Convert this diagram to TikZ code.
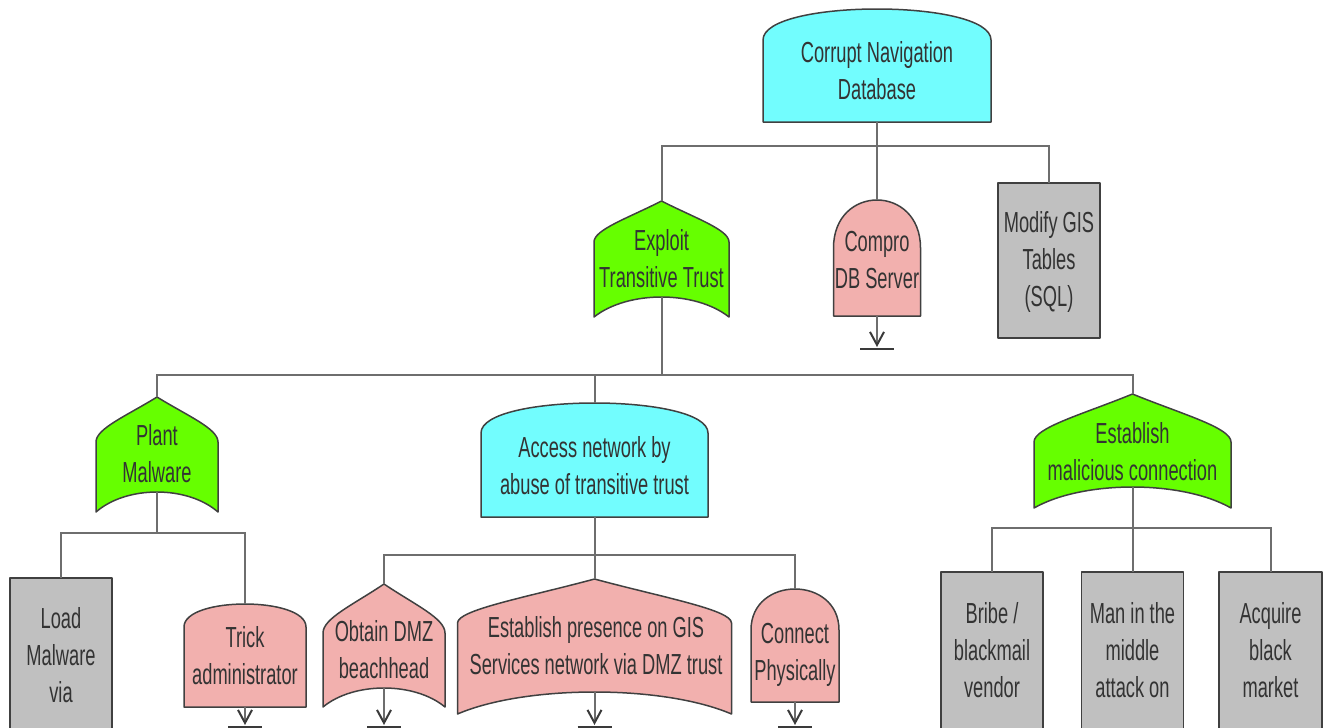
\documentclass[tikz,border=0pt]{standalone}
\usepackage{fontspec}
\setmainfont{Liberation Sans}[FakeStretch=0.63]
\usetikzlibrary{arrows.meta,calc}

\definecolor{andcyan}{HTML}{72FDFE}
\definecolor{orgreen}{HTML}{66FF00}
\definecolor{leafpink}{HTML}{F2B0AE}
\definecolor{leafgrey}{HTML}{C0C0C0}
\definecolor{edgec}{HTML}{404040}
\definecolor{linkc}{HTML}{6E6E6E}
\definecolor{barc}{HTML}{3A3A3A}
\definecolor{txtc}{HTML}{333333}

% AND gate: flat bottom, vertical sides, domed top (#3 = dome height)
\newcommand\andshape[3]{%
  \path[shp,#2] let \p1=(#1.south west), \p2=(#1.north east) in
    (\x1,\y1) -- (\x1,\y2-#3pt)
    .. controls (\x1,\y2+#3pt/3) and (\x2,\y2+#3pt/3) .. (\x2,\y2-#3pt)
    -- (\x2,\y1) -- cycle;}

% OR gate: pointed top (#3 = tip to shoulder), concave bottom (#4 = rise)
\newcommand\orshape[4]{%
  \path[shp,#2] let \p1=(#1.south west), \p2=(#1.north east) in
    (\x1,\y1) -- (\x1,\y2-#3pt)
    .. controls (\x1,\y2-0.7*#3pt) and (0.75*\x1+0.25*\x2,\y2-0.42*#3pt)
    .. (0.5*\x1+0.5*\x2,\y2)
    .. controls (0.25*\x1+0.75*\x2,\y2-0.42*#3pt) and (\x2,\y2-0.7*#3pt)
    .. (\x2,\y2-#3pt)
    -- (\x2,\y1)
    .. controls (0.25*\x1+0.75*\x2,\y1+1.333*#4pt) and (0.75*\x1+0.25*\x2,\y1+1.333*#4pt)
    .. (\x1,\y1) -- cycle;}

% plain leaf box
\newcommand\boxshape[2]{%
  \path[shp,#2] (#1.south west) rectangle (#1.north east);}

\begin{document}
\begin{tikzpicture}[x=1pt,y=-1pt,
  fr/.style 2 args={minimum width=#1pt, minimum height=#2pt,
    inner sep=0pt, outer sep=0pt},
  shp/.style={draw=edgec, line width=1.5pt, line join=round},
  txt/.style={align=center, inner sep=0pt, text=txtc,
    font=\fontsize{29}{37}\selectfont,
    execute at begin node=\strut, execute at end node=\strut},
  link/.style={draw=linkc, line width=2pt},
  xfer/.style={-{Straight Barb[length=13pt,width=14pt,color=barc]}},
  tbar/.style={draw=barc, line width=2pt}]

\useasboundingbox (0,0) rectangle (1328,728);
\clip (0,0) rectangle (1328,728);

% gate and leaf outlines
\node[fr={228}{113}] (cnd) at (877,65.5) {};
\node[fr={135}{116}] (ett) at (661.5,259) {};
\node[fr={87}{116}]  (cds) at (877,258) {};
\node[fr={102}{155}] (mgt) at (1049,260.5) {};
\node[fr={122}{115}] (plm) at (157,454.5) {};
\node[fr={227}{114}] (acc) at (594.5,460) {};
\node[fr={197}{114}] (emc) at (1132.5,451) {};
\node[fr={102}{190}] (lmv) at (61,673) {};
\node[fr={122}{103}] (tad) at (245,655.5) {};
\node[fr={122}{123}] (odb) at (384,645.5) {};
\node[fr={274}{135}] (eps) at (594.5,646.5) {};
\node[fr={88}{113}]  (cph) at (795,645.5) {};
\node[fr={102}{196}] (bbv) at (992,670) {};
\node[fr={102}{196}] (mim) at (1132.5,670) {};
\node[fr={103}{196}] (abm) at (1270.5,670) {};

\andshape{cnd}{fill=andcyan}{31}
\orshape{ett}{fill=orgreen}{41}{20}
\andshape{cds}{fill=leafpink}{48}
\boxshape{mgt}{fill=leafgrey}
\orshape{plm}{fill=orgreen}{45}{20}
\andshape{acc}{fill=andcyan}{30}
\orshape{emc}{fill=orgreen}{48}{21}
\boxshape{lmv}{fill=leafgrey}
\andshape{tad}{fill=leafpink}{23}
\orshape{odb}{fill=leafpink}{49}{19}
\orshape{eps}{fill=leafpink}{44}{22}
\andshape{cph}{fill=leafpink}{41}
\boxshape{bbv}{fill=leafgrey}
\boxshape{mim}{fill=leafgrey}
\boxshape{abm}{fill=leafgrey}

% tree connectors
\draw[link] (cnd.south) -- ++(0,24) -| (ett.north);
\draw[link] (cnd.south) -- (cds.north);
\draw[link] (cnd.south) -- ++(0,24) -| (mgt.north);

\draw[link] ([yshift=20pt]ett.south) -- ++(0,78) -| (plm.north);
\draw[link] ([yshift=20pt]ett.south) -- ++(0,78) -| (acc.north);
\draw[link] ([yshift=20pt]ett.south) -- ++(0,78) -| (emc.north);

\draw[link] ([yshift=20pt]plm.south) -- ++(0,41) -| (lmv.north);
\draw[link] ([yshift=20pt]plm.south) -- ++(0,41) -| (tad.north);

\draw[link] (acc.south) -- ++(0,38) -| (odb.north);
\draw[link] (acc.south) -- ++(0,38) -| (eps.north);
\draw[link] (acc.south) -- ++(0,38) -| (cph.north);

\draw[link] ([yshift=21pt]emc.south) -- ++(0,41) -| (bbv.north);
\draw[link] ([yshift=21pt]emc.south) -- ++(0,41) -| (mim.north);
\draw[link] ([yshift=21pt]emc.south) -- ++(0,41) -| (abm.north);

% transfer symbols below leaves
\coordinate (cds-x) at (877,349);
\coordinate (tad-x) at (245,727);
\coordinate (odb-x) at (384,727);
\coordinate (eps-x) at (594.5,727);
\coordinate (cph-x) at (795,727);

\draw[link,xfer] (cds.south) -- ([yshift=2pt]cds-x);
\draw[link,xfer] (tad.south) -- ([yshift=2pt]tad-x);
\draw[link,xfer] ([yshift=19pt]odb.south) -- ([yshift=2pt]odb-x);
\draw[link,xfer] ([yshift=22pt]eps.south) -- ([yshift=2pt]eps-x);
\draw[link,xfer] (cph.south) -- ([yshift=2pt]cph-x);

\foreach \t in {cds-x,tad-x,odb-x,eps-x,cph-x}
  \draw[tbar] ([xshift=-17pt]\t) -- ([xshift=17pt]\t);

% labels
\node[txt] (cnd-t) at (877,76.5)    {Corrupt Navigation\\Database};
\node[txt] (ett-t) at (661.5,264.5) {Exploit\\Transitive Trust};
\node[txt] (cds-t) at (877,265.5)   {Compro\\DB Server};
\node[txt] (mgt-t) at (1049,264.5)  {Modify GIS\\Tables\\(SQL)};
\node[txt] (plm-t) at (157,459.5)   {Plant\\Malware};
\node[txt] (acc-t) at (594.5,470.8) {Access network by\\abuse of transitive trust};
\node[txt] (emc-t) at (1132.5,457)  {Establish\\malicious connection};
\node[txt] (lmv-t) at (61,660.5)    {Load\\Malware\\via};
\node[txt] (tad-t) at (245,661)     {Trick\\administrator};
\node[txt] (odb-t) at (384,655.5)   {Obtain DMZ\\beachhead};
\node[txt] (eps-t) at (596,651.5)   {Establish presence on GIS\\Services network via DMZ trust};
\node[txt] (cph-t) at (795,657)     {Connect\\Physically};
\node[txt] (bbv-t) at (992,655.5)   {Bribe /\\blackmail\\vendor};
\node[txt] (mim-t) at (1132.5,655.5){Man in the\\middle\\attack on};
\node[txt] (abm-t) at (1270.5,655.5){Acquire\\black\\market};

\end{tikzpicture}
\end{document}
